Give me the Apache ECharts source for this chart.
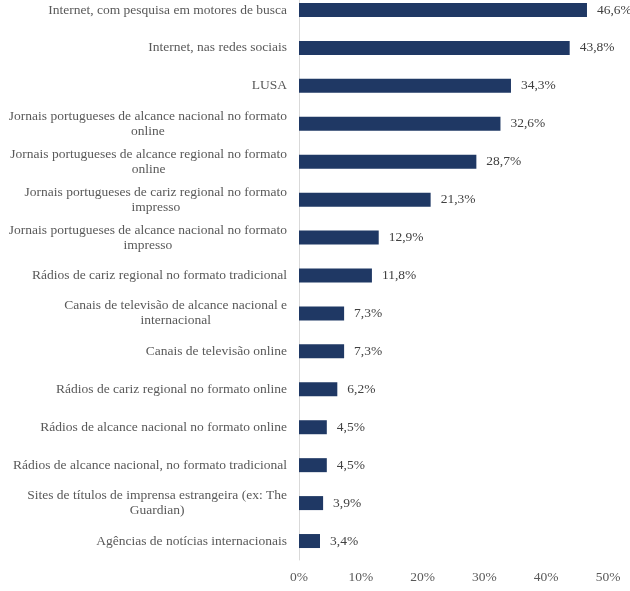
<!DOCTYPE html>
<html>
<head>
<meta charset="utf-8">
<script src="https://cdn.jsdelivr.net/npm/echarts@6/dist/echarts.min.js"></script>
<style>
html,body{margin:0;padding:0;background:#fff;overflow:hidden;}
#chart{width:630px;height:600px;position:absolute;left:0;top:-9px;}
</style>
</head>
<body>
<div id="chart"></div>
<script>
const categories = [
  "Internet, com pesquisa em motores de busca",
  "Internet, nas redes sociais",
  "LUSA",
  "Jornais portugueses de alcance nacional no formato\nonline",
  "Jornais portugueses de alcance regional no formato\nonline",
  "Jornais portugueses de cariz regional no formato\nimpresso",
  "Jornais portugueses de alcance nacional no formato\nimpresso",
  "Rádios de cariz regional no formato tradicional",
  "Canais de televisão de alcance nacional e\ninternacional",
  "Canais de televisão online",
  "Rádios de cariz regional no formato online",
  "Rádios de alcance nacional no formato online",
  "Rádios de alcance nacional, no formato tradicional",
  "Sites de títulos de imprensa estrangeira (ex: The\nGuardian)",
  "Agências de notícias internacionais"
];
const values = [46.6, 43.8, 34.3, 32.6, 28.7, 21.3, 12.9, 11.8, 7.3, 7.3, 6.2, 4.5, 4.5, 3.9, 3.4];
const tickValues = [0, 10, 20, 30, 40, 50];

const FONT = "'Liberation Serif', 'Times New Roman', serif";
const chart = echarts.init(document.getElementById('chart'));
chart.setOption({
  animation: false,
  grid: { left: 299, right: 22, top: 0, bottom: 31, containLabel: false },
  xAxis: {
    type: 'value', min: tickValues[0], max: tickValues[tickValues.length - 1], interval: 10,
    axisLine: { show: false }, axisTick: { show: false },
    splitLine: { show: false },
    axisLabel: { formatter: v => v + '%', fontFamily: FONT, fontSize: 13.5, color: '#595959', margin: 10 }
  },
  yAxis: {
    type: 'category', inverse: true, data: categories,
    axisLine: { show: true, lineStyle: { color: '#d9d9d9', width: 1 } },
    axisTick: { show: false },
    axisLabel: {
      margin: 12,
      formatter: v => v.split('\n').map(l => '{c|' + l + '}').join('\n'),
      rich: { c: { align: 'center', fontFamily: FONT, fontSize: 13.5, color: '#595959', lineHeight: 15 } }
    }
  },
  series: [{
    type: 'bar', data: values, barWidth: 14,
    itemStyle: { color: '#1F3864' },
    label: {
      show: true, position: 'right', distance: 10,
      formatter: p => String(p.value).replace('.', ',') + '%',
      fontFamily: FONT, fontSize: 13.5, color: '#404040'
    }
  }]
});
</script>
</body>
</html>
